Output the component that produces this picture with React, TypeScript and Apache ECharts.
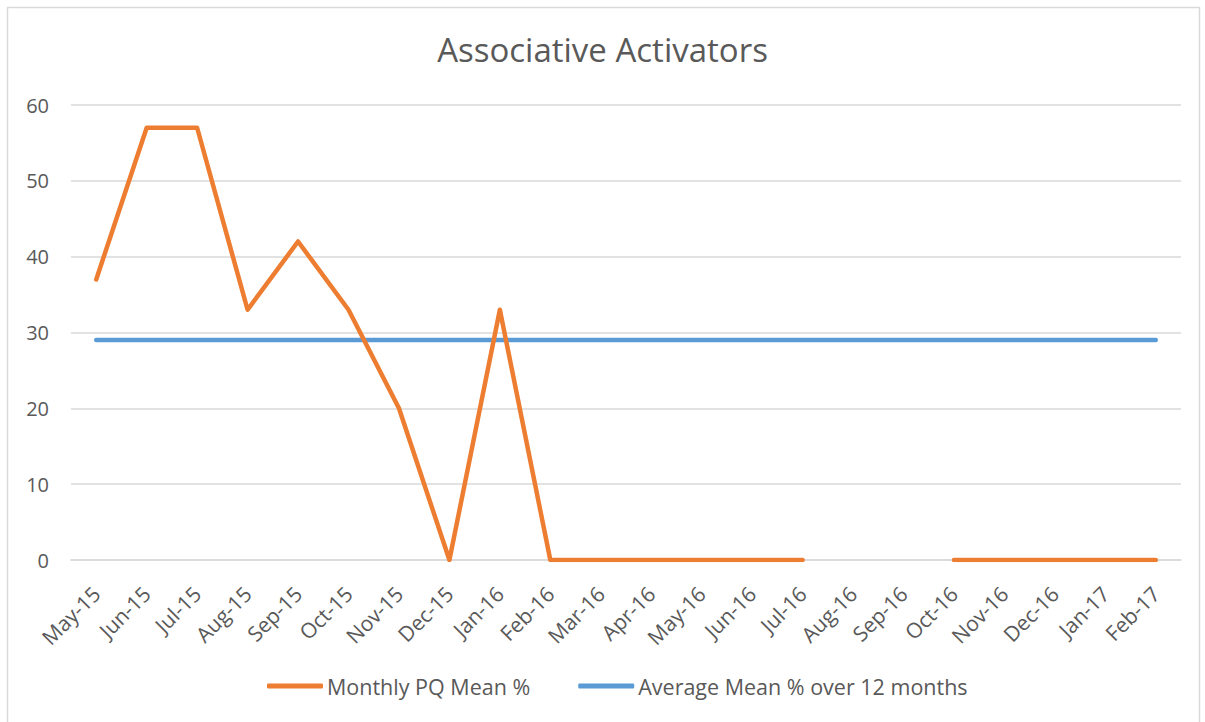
import React, { useEffect, useRef } from "react";
import * as echarts from "echarts";

const categories = ["May-15","Jun-15","Jul-15","Aug-15","Sep-15","Oct-15","Nov-15","Dec-15","Jan-16","Feb-16","Mar-16","Apr-16","May-16","Jun-16","Jul-16","Aug-16","Sep-16","Oct-16","Nov-16","Dec-16","Jan-17","Feb-17"];
const monthlyMean: (number | null)[] = [37,57,57,33,42,33,20,0,33,0,0,0,0,0,0,null,null,0,0,0,0,0];
const averageMean: number[] = [29,29,29,29,29,29,29,29,29,29,29,29,29,29,29,29,29,29,29,29,29,29];
const yTicks = { min: 0, max: 60, interval: 10 };

const FONT = "'Open Sans', 'Noto Sans', sans-serif";
const TXT = "#595959";

export default function App() {
  const ref = useRef<HTMLDivElement>(null);
  useEffect(() => {
    if (!ref.current) return;
    const chart = echarts.init(ref.current, null, { renderer: "svg" });
    chart.setOption({
      animation: false,
      backgroundColor: "#ffffff",
      title: {
        text: "Associative Activators",
        left: "center",
        top: 28,
        textStyle: { fontFamily: FONT, fontSize: 33, fontWeight: "normal", color: TXT },
      },
      graphic: [
        {
          type: "rect",
          shape: { x: 7.5, y: 7.5, width: 1192, height: 740 },
          style: { fill: "none", stroke: "#d9d9d9", lineWidth: 1.5 },
          silent: true,
        },
      ],
      legend: {
        bottom: 20,
        left: 262,
        itemWidth: 56,
        itemHeight: 5,
        itemGap: 48,
        icon: "roundRect",
        textStyle: { fontFamily: FONT, fontSize: 21.5, color: TXT, padding: [0, 0, 0, -1] },
        data: ["Monthly PQ Mean %", "Average Mean % over 12 months"],
      },
      grid: { left: 71, right: 24, top: 105, bottom: 162, containLabel: false },
      xAxis: {
        type: "category",
        data: categories,
        boundaryGap: true,
        axisLine: { show: true, lineStyle: { color: "#d9d9d9", width: 1.5 } },
        axisTick: { show: false },
        axisLabel: { rotate: 45, fontFamily: FONT, fontSize: 21, color: TXT, margin: 30, interval: 0 },
      },
      yAxis: {
        type: "value",
        min: yTicks.min,
        max: yTicks.max,
        interval: yTicks.interval,
        axisLine: { show: false },
        axisTick: { show: false },
        splitLine: { lineStyle: { color: "#d9d9d9", width: 1.5 } },
        axisLabel: { fontFamily: FONT, fontSize: 20, color: TXT, margin: 22 },
      },
      series: [
        {
          name: "Monthly PQ Mean %",
          type: "line",
          data: monthlyMean,
          symbol: "none",
          connectNulls: false,
          lineStyle: { color: "#ED7D31", width: 4.5, cap: "round", join: "round" },
          itemStyle: { color: "#ED7D31" },
          z: 3,
        },
        {
          name: "Average Mean % over 12 months",
          type: "line",
          data: averageMean,
          symbol: "none",
          lineStyle: { color: "#5B9BD5", width: 4.5, cap: "round", join: "round" },
          itemStyle: { color: "#5B9BD5" },
          z: 2,
        },
      ],
    });
    return () => chart.dispose();
  }, []);
  return (
    <div
      ref={ref}
      style={{ position: "absolute", left: 0, top: 0, width: 1205, height: 722 }}
    />
  );
}
